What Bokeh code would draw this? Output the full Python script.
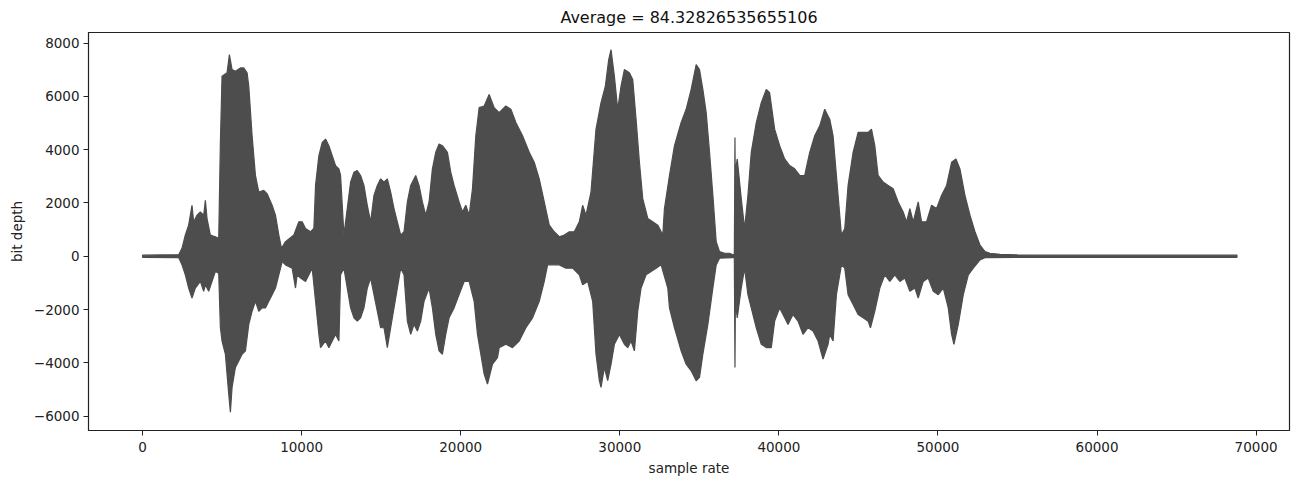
from bokeh.plotting import figure
from bokeh.models import Range1d, FixedTicker
from bokeh.embed import file_html
from bokeh.resources import INLINE

title_text = "Average = 84.32826535655106"
x_label = "sample rate"
y_label = "bit depth"

x_ticks = [0, 10000, 20000, 30000, 40000, 50000, 60000, 70000]
x_tick_labels = ["0", "10000", "20000", "30000", "40000", "50000", "60000", "70000"]
y_ticks = [-6000, -4000, -2000, 0, 2000, 4000, 6000, 8000]
y_tick_labels = ["\u22126000", "\u22124000", "\u22122000", "0", "2000", "4000", "6000", "8000"]

# upper envelope of the waveform (sample index, amplitude)
upper_x = [0, 2270, 2477, 2687, 2896, 3106, 3211, 3421, 3631, 3841, 3946, 4051, 4261, 4576, 4786,
           4891, 4995, 5310, 5457, 5625, 5835, 6150, 6360, 6570, 6675, 6885, 7095, 7305, 7619, 7829,
           8144, 8354, 8564, 8732, 8984, 9509, 9824, 10033, 10243, 10558, 10768, 10873, 11083, 11293,
           11503, 11712, 11922, 12132, 12342,
           12447, 12657, 12867, 13077, 13286, 13496, 13706, 13916, 14126, 14336, 14546, 14756, 14966,
           15176, 15386, 15596, 15805, 16015, 16225, 16435, 16645, 16855, 17170, 17379, 17589, 17799,
           18009, 18219, 18429, 18639, 18849, 19164, 19373, 19583, 19898, 20108, 20318, 20528, 20738,
           20948, 21158, 21473, 21787, 22102, 22417,
           22837, 23152, 23467, 23886, 24306, 24621, 24936, 25251, 25566, 25880, 26195, 26510, 26825,
           27140, 27455, 27665, 27875, 28189, 28504, 28819, 29092, 29302, 29449, 29659, 29868, 30078,
           30288, 30603, 30813, 31023, 31233, 31443, 31758, 32072, 32387, 32702,
           32807, 33122, 33437, 33857, 34171, 34486, 34801, 35011, 35221, 35431, 35641, 35851, 36060,
           36270, 36585, 36900, 37110, 37200, 37240, 37280, 37320, 37383, 37635, 37845, 38055, 38264,
           38579, 38894, 39209, 39419, 39734, 40049, 40363, 40678, 40993, 41308, 41623, 41938, 42253,
           42568, 42882, 43092, 43197,
           43407, 43617, 43932, 44142, 44351, 44666, 44981, 45296, 45611, 45821, 46031, 46241, 46555,
           46870, 47185, 47500, 47815, 48025, 48235, 48445, 48759, 48969, 49284, 49599, 49914, 50229,
           50544, 50858, 51131, 51383, 51698, 52013, 52328, 52643, 52958, 53272, 53902, 55000, 56000,
           68800]
upper_v = [40, 60, 300, 800, 1170, 1914, 1293, 1541, 1665, 1541, 2100, 1417, 796, 734, 672,
           4274, 6758, 6882, 7565, 7006, 6944, 7068, 7068, 6882, 6385, 4522, 3032, 2411, 2473, 2349,
           1914, 1541, 796, 300, 548, 796, 1293, 1293, 1044, 920, 1044, 2659, 3777, 4274,
           4398, 4149, 3777, 3404, 3280,
           3032, 796, 1790, 2783, 3156, 3218, 3032, 2659, 1914, 1293, 2287, 2659, 2907,
           2783, 2907, 2411, 1790, 1293, 796, 920, 2038, 2659, 3032, 2659, 2038, 1541,
           2038, 3280, 3901, 4212, 4149, 3901, 3156, 2659, 2038, 1665, 1914, 1541, 2535,
           4522, 5578, 5640, 6075, 5578, 5391,
           5640, 5516, 5019, 4522, 3901, 3528, 2907, 2038, 1169, 920, 734, 796, 920,
           920, 1293, 1914, 1541, 2411, 4770, 5764, 6385, 7379, 7751, 6758, 5516, 6385,
           7006, 6882, 6633, 5143, 3528, 2162, 1417, 1293, 1169, 796,
           1790, 3032, 4149, 5019, 5516, 6261, 7192, 7006, 6261, 5391, 3901, 2287, 548,
           175, 113, 113, 60, 60, 4460, 300, 3400, 3652, 2162, 1044, 2287, 3901,
           5019, 5764, 6261, 6137, 4770, 4149, 3652, 3404, 3280, 3032, 3032, 3901, 4522,
           4895, 5516, 5267, 5143,
           4522, 3032, 796, 1044, 2659, 3901, 4646, 4646, 4646, 4770, 4149, 3032, 2783,
           2659, 2535, 2038, 1665, 1293, 1790, 1293, 2038, 1293, 1293, 1914, 1790, 2287,
           2659, 3528, 3652, 3280, 2287, 1541, 920, 423, 175, 113, 75, 50, 40,
           40]

# lower envelope of the waveform (sample index, amplitude)
lower_x = [0, 2267, 2477, 2687, 2896, 3106, 3316, 3631, 3841, 3946, 4156, 4366, 4576, 4786,
           4891, 4995, 5205, 5310, 5415, 5520, 5625, 5835, 6045, 6255, 6465, 6675, 6885, 7095, 7305,
           7514, 7724, 7934, 8144, 8354, 8564, 8774, 8984, 9403, 9613, 9718, 9928, 10243, 10453,
           10663, 10873, 11083, 11188, 11503, 11712, 11922, 12132, 12342,
           12447, 12657, 12867, 13077, 13286, 13496, 13706, 13916, 14126, 14336, 14546, 14756, 14966,
           15176, 15386, 15596, 15805, 16015, 16225, 16435, 16645, 16855, 17065, 17275, 17484, 17694,
           18009, 18219, 18429, 18639, 18849, 19059, 19269, 19583, 19898, 20213, 20528, 20843, 21053,
           21263, 21473, 21682, 21997, 22312,
           22417, 22837, 23257, 23676, 24096, 24516, 24936, 25251, 25461, 25776, 26195, 26615, 27035,
           27455, 27665, 27980, 28294, 28504, 28714, 28819, 29029, 29239, 29449, 29659, 29974, 30288,
           30498, 30708, 30918, 31128, 31338, 31653, 31967, 32282, 32597,
           33017, 33122, 33437, 33857, 34171, 34486, 34801, 35011, 35221, 35536, 35851, 36060, 36270,
           37110, 37200, 37240, 37280, 37320, 37383, 37635, 37845, 38055, 38264, 38579, 38894, 39209,
           39524, 39734, 40049, 40363, 40573, 40888, 41203, 41518, 41833, 42148, 42463, 42777, 43092,
           43197, 43407, 43617, 43932, 44142, 44351, 44666, 44981, 45296, 45611, 45758, 46031, 46346,
           46660, 46975, 47290, 47605, 47920, 48235, 48549, 48759, 49074, 49389, 49704, 50019, 50334,
           50649, 50858, 51005, 51278, 51593, 51908, 52223, 52643, 52958, 55000, 68800]
lower_v = [-40, -50, -322, -694, -1191, -1564, -1191, -943, -1315, -1067, -1315, -943, -570, -632,
           -2682, -3179, -3675, -4420, -5166, -5849, -4917, -4172, -3924, -3675, -3551, -2557, -2061, -1688, -2061,
           -1937, -1937, -1688, -1440, -1191, -694, -198, -322, -446, -1191, -694, -818, -943, -694,
           -446, -1688, -2930, -3427, -3179, -3427, -3179, -2930, -3179,
           -694, -446, -1191, -1937, -2309, -2433, -2309, -1937, -1191, -818, -1440, -2061, -2682,
           -2682, -3427, -2682, -1937, -1191, -446, -694, -2433, -2930, -2557, -2806, -2433, -1688,
           -1191, -1937, -2930, -3551, -3675, -2930, -2309, -1937, -1440, -943, -943, -1688, -2930,
           -3675, -4420, -4793, -4048, -3799,
           -3427, -3303, -3427, -3179, -2682, -2309, -1688, -943, -322, -322, -322, -446, -446,
           -694, -1067, -943, -1688, -3675, -4669, -4917, -4172, -4669, -4048, -3303, -2930, -3303,
           -3427, -3179, -3551, -2061, -1191, -694, -570, -446, -322,
           -1191, -1937, -2682, -3551, -4048, -4296, -4669, -4545, -3675, -2557, -1191, -322, -74,
           -50, -50, -4172, -300, -2000, -2309, -1191, -446, -1440, -1937, -2682, -3303, -3427,
           -3427, -2433, -1937, -2309, -2557, -2185, -2433, -2930, -2682, -2806, -3179, -3861, -3303,
           -2930, -3179, -1440, -322, -446, -1440, -1812, -2185, -2309, -2433, -2682, -2061, -1191,
           -694, -943, -694, -943, -818, -1315, -1191, -1564, -943, -818, -1315, -1440, -1191,
           -1937, -2930, -3303, -2557, -1440, -694, -446, -136, -50, -45, -40]

WAVE = "#4d4d4d"
FONT = "DejaVu Sans"

p = figure(width=1291, height=478, output_backend="svg", toolbar_location=None,
           x_range=Range1d(-3400, 72100), y_range=Range1d(-6537, 8397),
           min_border_left=88, min_border_right=2, min_border_top=0, min_border_bottom=46,
           background_fill_color="white", border_fill_color="white")

# one closed outline: upper envelope left->right, lower envelope right->left
poly_x = upper_x + lower_x[::-1]
poly_y = upper_v + lower_v[::-1]
p.patch(poly_x, poly_y, fill_color=WAVE, line_color=WAVE, line_width=1.2)

p.title.text = title_text
p.title.align = "center"
p.title.text_font = FONT
p.title.text_font_size = "16px"
p.title.text_font_style = "normal"
p.title.text_color = "#111111"
p.title.standoff = 11

p.xgrid.visible = False
p.ygrid.visible = False
p.outline_line_color = "#222222"
p.outline_line_width = 1.2

for ax in (p.xaxis[0], p.yaxis[0]):
    ax.major_label_text_font = FONT
    ax.major_label_text_font_size = "13.5px"
    ax.major_label_text_color = "#222222"
    ax.axis_label_text_font = FONT
    ax.axis_label_text_font_size = "13.5px"
    ax.axis_label_text_font_style = "normal"
    ax.axis_label_text_color = "#222222"
    ax.axis_line_color = "#222222"
    ax.major_tick_line_color = "#222222"
    ax.major_tick_out = 5
    ax.major_tick_in = 0
    ax.minor_tick_line_color = None

p.xaxis[0].ticker = FixedTicker(ticks=x_ticks)
p.xaxis[0].major_label_overrides = dict(zip(x_ticks, x_tick_labels))
p.yaxis[0].ticker = FixedTicker(ticks=y_ticks)
p.yaxis[0].major_label_overrides = dict(zip(y_ticks, y_tick_labels))
p.xaxis[0].axis_label = x_label
p.yaxis[0].axis_label = y_label
p.xaxis[0].major_label_standoff = 6
p.xaxis[0].axis_label_standoff = 5
p.yaxis[0].major_label_standoff = 4
p.yaxis[0].axis_label_standoff = 6

open("out.html", "w").write(file_html(p, INLINE))
